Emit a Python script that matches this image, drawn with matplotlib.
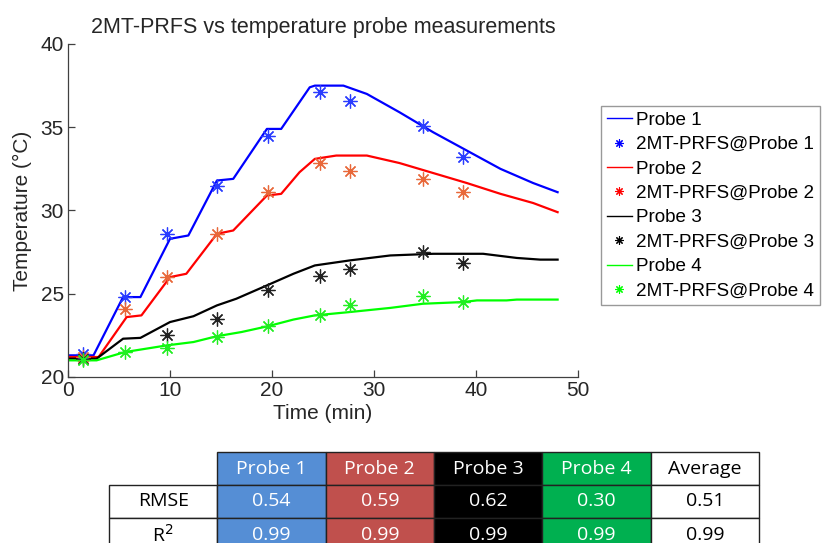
import matplotlib
matplotlib.use("Agg")
import matplotlib.pyplot as plt
from matplotlib.lines import Line2D

plt.rcParams['font.family'] = ['Liberation Sans', 'DejaVu Sans']

# ---- probe curves (time in min, temperature in °C) ----
t1 = [0, 2.5, 5.4, 7.1, 10.0, 11.8, 14.6, 16.2, 19.5, 20.9, 23.7, 24.2, 27.0, 29.3, 32.5, 35.8, 39.1, 42.4, 45.6, 48.0]
T1 = [21.3, 21.3, 24.8, 24.8, 28.3, 28.5, 31.8, 31.9, 34.9, 34.9, 37.4, 37.5, 37.5, 37.0, 35.9, 34.7, 33.6, 32.5, 31.65, 31.1]

t2 = [0, 3.0, 5.75, 7.2, 10.0, 11.6, 14.6, 16.2, 19.5, 20.9, 22.7, 24.2, 26.3, 29.3, 32.5, 35.8, 39.1, 42.4, 45.6, 48.0]
T2 = [21.2, 21.2, 23.6, 23.7, 26.0, 26.2, 28.6, 28.8, 30.9, 31.0, 32.3, 33.1, 33.3, 33.3, 32.85, 32.25, 31.65, 31.0, 30.45, 29.9]

t3 = [0, 2.8, 5.4, 7.1, 10.0, 12.3, 14.6, 16.5, 19.5, 22.1, 24.2, 27.6, 31.6, 35.8, 40.7, 44.0, 46.3, 48.0]
T3 = [21.1, 21.1, 22.3, 22.35, 23.3, 23.65, 24.3, 24.7, 25.5, 26.2, 26.7, 27.0, 27.3, 27.4, 27.4, 27.15, 27.05, 27.05]

t4 = [0, 2.8, 5.6, 9.7, 12.3, 14.6, 17.0, 19.6, 22.1, 24.2, 27.6, 31.6, 34.8, 38.7, 40.1, 43.0, 44.0, 48.0]
T4 = [21.0, 21.0, 21.5, 21.9, 22.1, 22.45, 22.7, 23.05, 23.45, 23.7, 23.9, 24.15, 24.4, 24.5, 24.6, 24.6, 24.65, 24.65]

# ---- 2MT-PRFS measurements ----
m1_t = [1.5, 5.6, 9.7, 14.6, 19.6, 24.7, 27.6, 34.8, 38.7]
m1_T = [21.4, 24.8, 28.6, 31.5, 34.5, 37.1, 36.6, 35.1, 33.2]
m2_t = [1.5, 5.6, 9.7, 14.6, 19.6, 24.7, 27.6, 34.8, 38.7]
m2_T = [21.2, 24.1, 26.0, 28.6, 31.1, 32.85, 32.4, 31.9, 31.1]
m3_t = [1.5, 9.7, 14.6, 19.6, 24.7, 27.6, 34.8, 38.7]
m3_T = [21.1, 22.5, 23.5, 25.2, 26.05, 26.5, 27.5, 26.85]
m4_t = [1.5, 5.6, 9.7, 14.6, 19.6, 24.7, 27.6, 34.8, 38.7]
m4_T = [21.0, 21.5, 21.75, 22.4, 23.05, 23.7, 24.3, 24.85, 24.5]

# ---- table ----
col_labels = ['Probe 1', 'Probe 2', 'Probe 3', 'Probe 4', 'Average']
row_labels = ['RMSE', 'R$^2$']
rmse = ['0.54', '0.59', '0.62', '0.30', '0.51']
r2 = ['0.99', '0.99', '0.99', '0.99', '0.99']

W, H = 824, 543
fig = plt.figure(figsize=(W / 100, H / 100), dpi=100)

def fx(px):
    return px / W

def fy(py):
    return 1 - py / H

ax = fig.add_axes([fx(68), fy(377), fx(578 - 68), (377 - 44) / H])

line_colors = ['#0000ff', '#ff0000', '#000000', '#00ff00']
marker_colors = ['#2a3cff', '#e8683a', '#222222', '#22ee22']
legend_marker_colors = ['#0000ff', '#ff0000', '#000000', '#00ff00']
star = (8, 2, 0)

series = [(t1, T1, m1_t, m1_T), (t2, T2, m2_t, m2_T), (t3, T3, m3_t, m3_T), (t4, T4, m4_t, m4_T)]
for i, (lt, lT, mt, mT) in enumerate(series):
    ax.plot(lt, lT, color=line_colors[i], lw=1.6, zorder=2)
    ax.plot(mt, mT, linestyle='none', marker=star, markersize=10,
            markeredgewidth=0.9, color=marker_colors[i], zorder=3)

ax.set_xlim(0, 50)
ax.set_ylim(20, 40)
ax.set_xticks([0, 10, 20, 30, 40, 50])
ax.set_yticks([20, 25, 30, 35, 40])
for s in ['top', 'right']:
    ax.spines[s].set_visible(False)
for s in ['left', 'bottom']:
    ax.spines[s].set_color('#404040')
    ax.spines[s].set_linewidth(0.9)
ax.tick_params(direction='in', length=5, width=0.9, color='#404040',
               labelsize=15, labelcolor='#262626', pad=3)
ax.set_xlabel('Time (min)', fontsize=15, color='#262626', labelpad=3)
ax.set_ylabel('Temperature (°C)', fontsize=15, color='#262626', labelpad=6)
ax.set_title('2MT-PRFS vs temperature probe measurements', fontsize=15.5,
             color='#262626', pad=8)

handles = []
labels = []
for i in range(4):
    handles.append(Line2D([], [], color=line_colors[i], lw=1.0))
    labels.append(f'Probe {i + 1}')
    handles.append(Line2D([], [], linestyle='none', marker=star, markersize=6,
                          markeredgewidth=0.8, color=legend_marker_colors[i]))
    labels.append(f'2MT-PRFS@Probe {i + 1}')
fig.legend(handles, labels, loc='upper left',
           bbox_to_anchor=(fx(601), fy(106)), fontsize=13.6,
           frameon=True, fancybox=False, edgecolor='#808080',
           handlelength=1.35, handletextpad=0.2, labelspacing=0.38,
           borderpad=0.3, borderaxespad=0)

# ---- table ----
tax = fig.add_axes([fx(109), fy(551), fx(759 - 109), 99 / H])
tax.axis('off')
cell_text = [[''] + col_labels, [row_labels[0]] + rmse, [row_labels[1]] + r2]
fill = ['#558ed5', '#c0504d', '#000000', '#00b050', '#ffffff']
txtc = ['white', 'white', 'white', 'white', 'black']
tbl = tax.table(cellText=cell_text, bbox=[0, 0, 1, 1], cellLoc='center')
tbl.auto_set_font_size(False)
for (r, c), cell in tbl.get_celld().items():
    cell.set_linewidth(1.0)
    cell.set_edgecolor('#222222')
    txt = cell.get_text()
    txt.set_fontsize(14)
    txt.set_fontfamily(['Open Sans', 'DejaVu Sans'])
    if c == 0:
        cell.set_facecolor('white')
        txt.set_color('black')
        if r == 0:
            cell.set_linewidth(0)
    else:
        cell.set_facecolor(fill[c - 1])
        txt.set_color(txtc[c - 1])

fig.savefig('out.png', dpi=100)
